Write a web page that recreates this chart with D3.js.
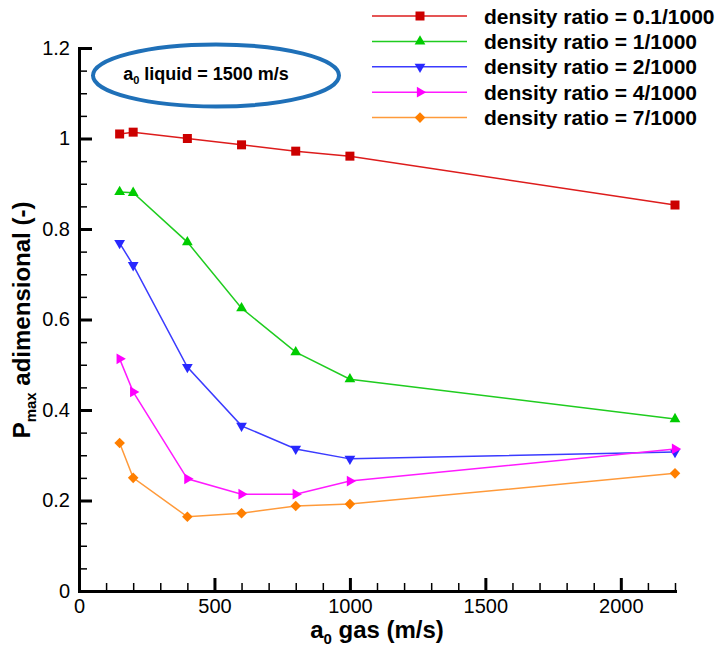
<!DOCTYPE html>
<html>
<head>
<meta charset="utf-8">
<script src="https://cdn.jsdelivr.net/npm/d3@7"></script>
<style>
  body { margin: 0; background: #fff; }
  text { font-family: "Liberation Sans", Arial, sans-serif; }
</style>
</head>
<body>
<div id="container"></div>
<script>
/* CONSTANTS AND GLOBALS */
const width = 721,
    height = 660,
    margin = { top: 48, bottom: 69, left: 79, right: 46 };

// DATA
const gasSpeed = [150, 200, 400, 600, 800, 1000, 2200];
const seriesNames = [
    "density ratio = 0.1/1000",
    "density ratio = 1/1000",
    "density ratio = 2/1000",
    "density ratio = 4/1000",
    "density ratio = 7/1000"
];
const ratio01 = [1.010, 1.014, 1.000, 0.986, 0.972, 0.961, 0.853];
const ratio1 = [0.882, 0.880, 0.771, 0.625, 0.528, 0.468, 0.380];
const ratio2 = [0.769, 0.720, 0.495, 0.365, 0.314, 0.292, 0.307];
const ratio4 = [0.513, 0.440, 0.248, 0.214, 0.214, 0.243, 0.314];
const ratio7 = [0.327, 0.250, 0.164, 0.172, 0.188, 0.192, 0.260];
const xTicks = [0, 500, 1000, 1500, 2000];
const yTicks = [0, 0.2, 0.4, 0.6, 0.8, 1, 1.2];
const yTickLabels = ["0", "0.2", "0.4", "0.6", "0.8", "1", "1.2"];

const allSeries = [ratio01, ratio1, ratio2, ratio4, ratio7];
const lineColors = ["#dd1c1c", "#1fcc1f", "#3b3bff", "#ff1aff", "#ff9a3a"];
const markColors = ["#cc0000", "#00cc00", "#2828ff", "#ff00ff", "#ff7f00"];
const markers = [
    { type: d3.symbolSquare, size: 81, rot: 0 },
    { type: d3.symbolTriangle, size: 50, rot: 0 },
    { type: d3.symbolTriangle, size: 50, rot: 180 },
    { type: d3.symbolTriangle, size: 50, rot: 90 },
    { type: d3.symbolSquare, size: 56, rot: 45 }
];

// SVG
const svg = d3.select("#container")
    .append("svg")
    .attr("width", width)
    .attr("height", height);

// SCALES
const xScale = d3.scaleLinear()
    .domain([0, 2200])
    .range([margin.left, width - margin.right]);

const yScale = d3.scaleLinear()
    .domain([0, 1.2])
    .range([height - margin.bottom, margin.top]);

// MINOR TICKS
const xMinor = d3.range(0, 2201, 100).filter(v => v % 500 !== 0);
const yMinor = d3.range(0, 25).map(i => i * 0.05).filter((v, i) => i % 4 !== 0);

svg.append("g")
    .attr("transform", `translate(0,${yScale(0)})`)
    .call(d3.axisBottom(xScale).tickValues(xMinor).tickSize(-8).tickSizeOuter(0).tickFormat(""))
    .call(g => g.select(".domain").remove())
    .call(g => g.selectAll("line").attr("stroke-width", 1.5));

svg.append("g")
    .attr("transform", `translate(${xScale(0)},0)`)
    .call(d3.axisLeft(yScale).tickValues(yMinor).tickSize(-8).tickSizeOuter(0).tickFormat(""))
    .call(g => g.select(".domain").remove())
    .call(g => g.selectAll("line").attr("stroke-width", 1.5));

// MAJOR AXES
const xAxis = svg.append("g")
    .attr("transform", `translate(0,${yScale(0)})`)
    .call(d3.axisBottom(xScale).tickValues(xTicks).tickSize(-13).tickSizeOuter(0).tickPadding(8)
        .tickFormat(d3.format("d")));

const yAxis = svg.append("g")
    .attr("transform", `translate(${xScale(0)},0)`)
    .call(d3.axisLeft(yScale).tickValues(yTicks).tickSize(-13).tickSizeOuter(0).tickPadding(9)
        .tickFormat((d, i) => yTickLabels[i]));

[xAxis, yAxis].forEach(ax => {
    ax.select(".domain").attr("stroke-width", 3).attr("stroke-linecap", "square");
    ax.selectAll(".tick line").attr("stroke-width", 3);
    ax.selectAll(".tick text")
        .attr("font-size", 20)
        .attr("font-family", "Liberation Sans, Arial, sans-serif")
        .attr("fill", "#000");
});

// AXIS TITLES
const xTitle = svg.append("text")
    .attr("x", 377)
    .attr("y", 638)
    .attr("text-anchor", "middle")
    .attr("font-size", 24)
    .attr("font-weight", "bold");
xTitle.append("tspan").text("a");
xTitle.append("tspan").attr("font-size", 15).attr("dy", 6).text("0");
xTitle.append("tspan").attr("dy", -6).text(" gas (m/s)");

const yTitle = svg.append("text")
    .attr("transform", "translate(30,320) rotate(-90)")
    .attr("text-anchor", "middle")
    .attr("font-size", 24)
    .attr("font-weight", "bold");
yTitle.append("tspan").text("P");
yTitle.append("tspan").attr("font-size", 15).attr("dy", 6).text("max");
yTitle.append("tspan").attr("dy", -6).text(" adimensional (-)");

// LINES
const lineGen = d3.line()
    .x((d, i) => xScale(gasSpeed[i]))
    .y(d => yScale(d));

const symbolPath = (m) => d3.symbol().type(m.type).size(m.size)();

allSeries.forEach((values, s) => {
    svg.append("path")
        .attr("d", lineGen(values))
        .attr("fill", "none")
        .attr("stroke", lineColors[s])
        .attr("stroke-width", 1.5);

    svg.selectAll(`path.mark-${s}`)
        .data(values)
        .join("path")
        .attr("class", `mark-${s}`)
        .attr("d", symbolPath(markers[s]))
        .attr("fill", markColors[s])
        .attr("transform", (d, i) =>
            `translate(${xScale(gasSpeed[i])},${yScale(d)}) rotate(${markers[s].rot})`);
});

// LEGEND
const legend = svg.append("g");
seriesNames.forEach((name, s) => {
    const y = 16 + s * 25.4;
    legend.append("line")
        .attr("x1", 372).attr("x2", 467)
        .attr("y1", y).attr("y2", y)
        .attr("stroke", lineColors[s])
        .attr("stroke-width", 1.5);
    legend.append("path")
        .attr("d", symbolPath(markers[s]))
        .attr("fill", markColors[s])
        .attr("transform", `translate(420,${y}) rotate(${markers[s].rot})`);
    legend.append("text")
        .attr("x", 484)
        .attr("y", y + 7.5)
        .attr("font-size", 21)
        .attr("font-weight", "bold")
        .text(name);
});

// ANNOTATION
svg.append("ellipse")
    .attr("cx", 216).attr("cy", 75.5)
    .attr("rx", 123).attr("ry", 31)
    .attr("fill", "none")
    .attr("stroke", "#1f70b8")
    .attr("stroke-width", 4);

const note = svg.append("text")
    .attr("x", 206)
    .attr("y", 80)
    .attr("text-anchor", "middle")
    .attr("font-size", 18)
    .attr("font-weight", "bold");
note.append("tspan").text("a");
note.append("tspan").attr("font-size", 11).attr("dy", 4).text("0");
note.append("tspan").attr("dy", -4).text(" liquid = 1500 m/s");
</script>
</body>
</html>
